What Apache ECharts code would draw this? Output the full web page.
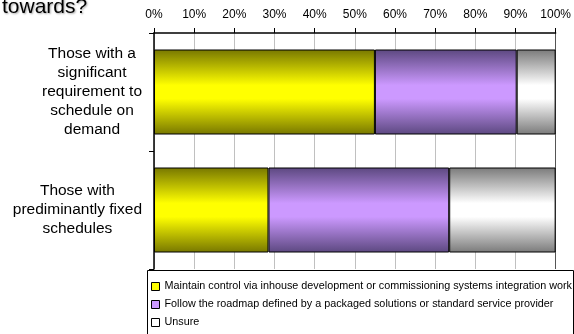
<!DOCTYPE html>
<html>
<head>
<meta charset="utf-8">
<script src="https://cdn.jsdelivr.net/npm/echarts@6/dist/echarts.min.js"></script>
<style>
  html, body { margin: 0; padding: 0; background: #fff; }
  #main { width: 574px; height: 334px; }
</style>
</head>
<body>
<div id="main"></div>
<script>
var categories = [
  'Those with a\nsignificant\nrequirement to\nschedule on\ndemand',
  'Those with\nprediminantly fixed\nschedules'
];
var seriesNames = [
  'Maintain control via inhouse development or commissioning systems integration work',
  'Follow the roadmap defined by a packaged solutions or standard service provider',
  'Unsure'
];
var inhouse = [55, 28.5];
var roadmap = [35.3, 45];
var unsure = [9.7, 26.5];

var chart = echarts.init(document.getElementById('main'));

function grad(edge, mid) {
  return new echarts.graphic.LinearGradient(0, 0, 0, 1, [
    { offset: 0, color: edge },
    { offset: 0.42, color: mid },
    { offset: 0.58, color: mid },
    { offset: 1, color: edge }
  ]);
}
var fills = [
  grad('#777700', '#ffff00'),
  grad('#5c4880', '#cc99ff'),
  grad('#7a7a7a', '#ffffff')
];
var flat = ['#ffff00', '#cc99ff', '#ffffff'];
var datas = [inhouse, roadmap, unsure];

// darker line on the 100% edge
var gridColors = [];
for (var i = 0; i < 10; i++) gridColors.push('#c0c0c0');
gridColors.push('#555555');

var option = {
  animation: false,
  textStyle: { fontFamily: 'Arial, "Liberation Sans", sans-serif' },
  graphic: [{
    type: 'text',
    left: 2,
    top: -3,
    style: {
      text: 'towards?',
      font: '21px Arial, "Liberation Sans", sans-serif',
      fill: '#000',
      textShadowColor: 'rgba(0,0,0,0.35)',
      textShadowBlur: 2,
      textShadowOffsetX: 1,
      textShadowOffsetY: 1
    }
  }, {
    // legend frame
    type: 'rect',
    shape: { x: 147.5, y: 270.5, width: 426, height: 70 },
    style: { fill: 'none', stroke: '#000', lineWidth: 1 },
    z: 10
  }],
  grid: { left: 154, right: 16, top: 33, bottom: 65 },
  legend: {
    orient: 'vertical',
    left: 151,
    top: 280,
    padding: 0,
    itemWidth: 8,
    itemHeight: 8,
    itemGap: 5,
    icon: 'rect',
    textStyle: { fontSize: 10.8, color: '#000', lineHeight: 13 },
    data: seriesNames.map(function (n, i) {
      return { name: n, itemStyle: { color: flat[i], borderColor: '#000', borderWidth: 1 } };
    })
  },
  xAxis: {
    type: 'value',
    position: 'top',
    min: 0,
    max: 100,
    interval: 10,
    axisLine: { show: true, lineStyle: { color: '#000', width: 1.5 } },
    axisTick: { show: true, length: 5, lineStyle: { color: '#000' } },
    axisLabel: { formatter: '{value}%', fontSize: 12, color: '#000', margin: 12 },
    splitLine: { show: true, lineStyle: { color: gridColors, width: 1 } }
  },
  yAxis: {
    type: 'category',
    inverse: true,
    data: categories,
    axisLine: { show: true, lineStyle: { color: '#000', width: 1.5 } },
    axisTick: { show: true, length: 5, lineStyle: { color: '#000' } },
    axisLabel: {
      align: 'right',
      margin: 12,
      formatter: function (v) {
        return v.split('\n').map(function (l) { return '{c|' + l + '}'; }).join('\n');
      },
      rich: {
        c: { align: 'center', fontSize: 15.5, lineHeight: 19, color: '#000' }
      }
    }
  },
  series: seriesNames.map(function (n, i) {
    return {
      name: n,
      type: 'bar',
      stack: 'total',
      barWidth: 85,
      data: datas[i],
      itemStyle: { color: fills[i], borderColor: '#000', borderWidth: 1 }
    };
  })
};

chart.setOption(option);
</script>
</body>
</html>
